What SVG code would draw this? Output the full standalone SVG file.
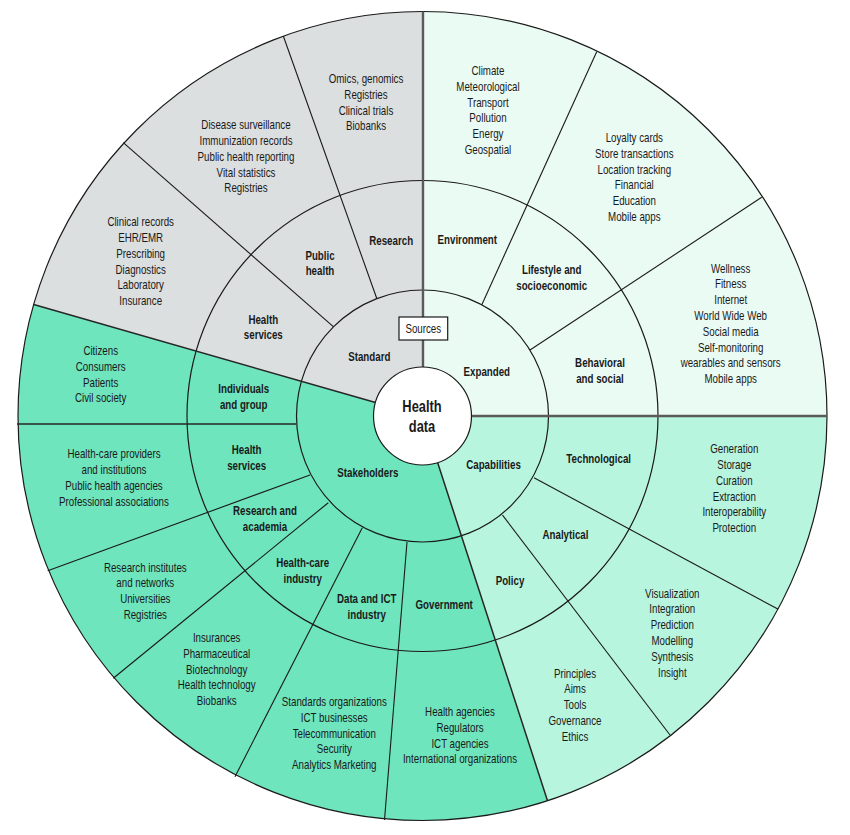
<svg xmlns="http://www.w3.org/2000/svg" width="850" height="835" viewBox="0 0 850 835">
<style>
text{font-family:'Liberation Sans',Arial,sans-serif;font-size:12.5px;fill:#1a1a1a;text-anchor:middle}
.b{font-weight:bold}
.c{font-size:16.5px;font-weight:bold}
.ring{fill:none;stroke:#1a1a1a;stroke-width:1.2}
.div{stroke:#1a1a1a;stroke-width:1.1;fill:none}
.main{stroke:#5a5a5a;stroke-width:2.4;fill:none}
.top{stroke:#262626;stroke-width:1.5;fill:none}
</style>
<rect width="850" height="835" fill="#ffffff"/>
<g id="wedges">
<path id="w-standard" d="M422.5 416 L33.7 304.5 A404.5 404.5 0 0 1 422.5 11.5 Z" fill="#dcdfdf"/>
<path id="w-expanded" d="M422.5 416 L422.5 11.5 A404.5 404.5 0 0 1 827 416 Z" fill="#eafbf4"/>
<path id="w-capabilities" d="M422.5 416 L827 416 A404.5 404.5 0 0 1 547.5 800.7 Z" fill="#b8f5de"/>
<path id="w-stakeholders" d="M422.5 416 L547.5 800.7 A404.5 404.5 0 0 1 33.7 304.5 Z" fill="#6ee5bd"/>
</g>
<g id="connectors">
<circle class="ring" cx="422.5" cy="416" r="404.5"/>
<circle class="ring" cx="422.5" cy="416" r="235.5"/>
<circle class="ring" cx="422.5" cy="416" r="126"/>
<line class="div" x1="333.3" y1="326.7" x2="123.3" y2="142.7"/>
<line class="div" x1="376.7" y1="298.3" x2="283.3" y2="36"/>
<line class="div" x1="481.7" y1="305" x2="596.7" y2="51.7"/>
<line class="div" x1="530" y1="350" x2="761.7" y2="197.3"/>
<line class="div" x1="534" y1="477.7" x2="778.3" y2="609.3"/>
<line class="div" x1="502.5" y1="515.1" x2="670" y2="735"/>
<line class="div" x1="407" y1="542" x2="384.5" y2="820"/>
<line class="div" x1="362.3" y1="527.7" x2="235" y2="776.7"/>
<line class="div" x1="328.3" y1="502.7" x2="113.3" y2="678.3"/>
<line class="div" x1="310" y1="475" x2="47.7" y2="570.7"/>
<line class="top" x1="296" y1="424" x2="17" y2="424"/>
<line class="top" x1="375.5" y1="402.5" x2="33.7" y2="304.5"/>
<line class="top" x1="437.6" y1="462.6" x2="547.5" y2="800.7"/>
<line class="main" x1="423" y1="367" x2="423" y2="11.5"/>
<line class="main" x1="471.5" y1="416" x2="827" y2="416"/>
</g>
<g id="center">
<circle cx="422.5" cy="416" r="49" fill="#ffffff" stroke="#1a1a1a" stroke-width="1.2"/>
<g transform="matrix(0.78 0 0 1 92.84 0)"><text class="c" x="422" y="412.5">Health</text>
<text class="c" x="422" y="432">data</text></g>
</g>
<g id="sources">
<rect x="399" y="317" width="48.7" height="23" fill="#ffffff" stroke="#1a1a1a" stroke-width="1.2"/>
<text transform="matrix(0.78 0 0 1 93.13 0)" x="423.3" y="333">Sources</text>
</g>
<g id="standard" transform="matrix(0.78 0 0 1 81.25 0)"><text class="b" x="369.3" y="361">Standard</text></g>
<g id="expanded" transform="matrix(0.78 0 0 1 107.1 0)"><text class="b" x="486.8" y="376">Expanded</text></g>
<g id="capabilities" transform="matrix(0.78 0 0 1 108.57 0)"><text class="b" x="493.5" y="469.3">Capabilities</text></g>
<g id="stakeholders" transform="matrix(0.78 0 0 1 80.92 0)"><text class="b" x="367.8" y="477">Stakeholders</text></g>

<g id="research" transform="matrix(0.78 0 0 1 86.06 0)"><text class="b" x="391.2" y="245">Research</text></g>
<g id="public-health" transform="matrix(0.78 0 0 1 70.4 0)"><text class="b" x="320" y="260">Public</text><text class="b" x="320" y="275">health</text></g>
<g id="health-services-std" transform="matrix(0.78 0 0 1 57.93 0)"><text class="b" x="263.3" y="323.6">Health</text><text class="b" x="263.3" y="339.3">services</text></g>
<g id="environment" transform="matrix(0.78 0 0 1 102.81 0)"><text class="b" x="467.3" y="244.3">Environment</text></g>
<g id="lifestyle" transform="matrix(0.78 0 0 1 121.37 0)"><text class="b" x="551.7" y="273.6">Lifestyle and</text><text class="b" x="551.7" y="290">socioeconomic</text></g>
<g id="behavioral" transform="matrix(0.78 0 0 1 132 0)"><text class="b" x="600" y="366.6">Behavioral</text><text class="b" x="600" y="382.6">and social</text></g>
<g id="technological" transform="matrix(0.78 0 0 1 131.71 0)"><text class="b" x="598.7" y="463.3">Technological</text></g>
<g id="analytical" transform="matrix(0.78 0 0 1 124.41 0)"><text class="b" x="565.5" y="539.3">Analytical</text></g>
<g id="policy" transform="matrix(0.78 0 0 1 112.2 0)"><text class="b" x="510" y="585">Policy</text></g>
<g id="government" transform="matrix(0.78 0 0 1 97.72 0)"><text class="b" x="444.2" y="609">Government</text></g>
<g id="data-ict" transform="matrix(0.78 0 0 1 80.67 0)"><text class="b" x="366.7" y="603.3">Data and ICT</text><text class="b" x="366.7" y="619.3">industry</text></g>
<g id="health-care-industry" transform="matrix(0.78 0 0 1 66.59 0)"><text class="b" x="302.7" y="567">Health-care</text><text class="b" x="302.7" y="582.6">industry</text></g>
<g id="research-academia" transform="matrix(0.78 0 0 1 58.3 0)"><text class="b" x="265" y="515.3">Research and</text><text class="b" x="265" y="531">academia</text></g>
<g id="health-services-stk" transform="matrix(0.78 0 0 1 54.27 0)"><text class="b" x="246.7" y="454.3">Health</text><text class="b" x="246.7" y="470">services</text></g>
<g id="individuals" transform="matrix(0.78 0 0 1 53.61 0)"><text class="b" x="243.7" y="393.3">Individuals</text><text class="b" x="243.7" y="409.3">and group</text></g>

<g id="research-items" transform="matrix(0.78 0 0 1 80.52 0)"><text x="366" y="83"><tspan x="366">Omics, genomics</tspan><tspan x="366" dy="15.8">Registries</tspan><tspan x="366" dy="15.8">Clinical trials</tspan><tspan x="366" dy="15.8">Biobanks</tspan></text></g>
<g id="public-health-items" transform="matrix(0.78 0 0 1 54.12 0)"><text x="246" y="129.3"><tspan x="246">Disease surveillance</tspan><tspan x="246" dy="15.8">Immunization records</tspan><tspan x="246" dy="15.8">Public health reporting</tspan><tspan x="246" dy="15.8">Vital statistics</tspan><tspan x="246" dy="15.8">Registries</tspan></text></g>
<g id="health-services-std-items" transform="matrix(0.78 0 0 1 30.95 0)"><text x="140.7" y="226.3"><tspan x="140.7">Clinical records</tspan><tspan x="140.7" dy="15.8">EHR/EMR</tspan><tspan x="140.7" dy="15.8">Prescribing</tspan><tspan x="140.7" dy="15.8">Diagnostics</tspan><tspan x="140.7" dy="15.8">Laboratory</tspan><tspan x="140.7" dy="15.8">Insurance</tspan></text></g>
<g id="environment-items" transform="matrix(0.78 0 0 1 107.36 0)"><text x="488" y="75"><tspan x="488">Climate</tspan><tspan x="488" dy="15.8">Meteorological</tspan><tspan x="488" dy="15.8">Transport</tspan><tspan x="488" dy="15.8">Pollution</tspan><tspan x="488" dy="15.8">Energy</tspan><tspan x="488" dy="15.8">Geospatial</tspan></text></g>
<g id="lifestyle-items" transform="matrix(0.78 0 0 1 139.55 0)"><text x="634.3" y="142"><tspan x="634.3">Loyalty cards</tspan><tspan x="634.3" dy="15.8">Store transactions</tspan><tspan x="634.3" dy="15.8">Location tracking</tspan><tspan x="634.3" dy="15.8">Financial</tspan><tspan x="634.3" dy="15.8">Education</tspan><tspan x="634.3" dy="15.8">Mobile apps</tspan></text></g>
<g id="behavioral-items" transform="matrix(0.78 0 0 1 160.75 0)"><text x="730.7" y="272.6"><tspan x="730.7">Wellness</tspan><tspan x="730.7" dy="15.8">Fitness</tspan><tspan x="730.7" dy="15.8">Internet</tspan><tspan x="730.7" dy="15.8">World Wide Web</tspan><tspan x="730.7" dy="15.8">Social media</tspan><tspan x="730.7" dy="15.8">Self-monitoring</tspan><tspan x="730.7" dy="15.8">wearables and sensors</tspan><tspan x="730.7" dy="15.8">Mobile apps</tspan></text></g>
<g id="technological-items" transform="matrix(0.78 0 0 1 161.55 0)"><text x="734.3" y="453.3"><tspan x="734.3">Generation</tspan><tspan x="734.3" dy="15.8">Storage</tspan><tspan x="734.3" dy="15.8">Curation</tspan><tspan x="734.3" dy="15.8">Extraction</tspan><tspan x="734.3" dy="15.8">Interoperability</tspan><tspan x="734.3" dy="15.8">Protection</tspan></text></g>
<g id="analytical-items" transform="matrix(0.78 0 0 1 147.91 0)"><text x="672.3" y="597.6"><tspan x="672.3">Visualization</tspan><tspan x="672.3" dy="15.8">Integration</tspan><tspan x="672.3" dy="15.8">Prediction</tspan><tspan x="672.3" dy="15.8">Modelling</tspan><tspan x="672.3" dy="15.8">Synthesis</tspan><tspan x="672.3" dy="15.8">Insight</tspan></text></g>
<g id="policy-items" transform="matrix(0.78 0 0 1 126.5 0)"><text x="575" y="677.6"><tspan x="575">Principles</tspan><tspan x="575" dy="15.8">Aims</tspan><tspan x="575" dy="15.8">Tools</tspan><tspan x="575" dy="15.8">Governance</tspan><tspan x="575" dy="15.8">Ethics</tspan></text></g>
<g id="government-items" transform="matrix(0.78 0 0 1 101.2 0)"><text x="460" y="716"><tspan x="460">Health agencies</tspan><tspan x="460" dy="15.8">Regulators</tspan><tspan x="460" dy="15.8">ICT agencies</tspan><tspan x="460" dy="15.8">International organizations</tspan></text></g>
<g id="data-ict-items" transform="matrix(0.78 0 0 1 73.55 0)"><text x="334.3" y="706"><tspan x="334.3">Standards organizations</tspan><tspan x="334.3" dy="15.8">ICT businesses</tspan><tspan x="334.3" dy="15.8">Telecommunication</tspan><tspan x="334.3" dy="15.8">Security</tspan><tspan x="334.3" dy="15.8">Analytics Marketing</tspan></text></g>
<g id="health-care-industry-items" transform="matrix(0.78 0 0 1 47.67 0)"><text x="216.7" y="642"><tspan x="216.7">Insurances</tspan><tspan x="216.7" dy="15.8">Pharmaceutical</tspan><tspan x="216.7" dy="15.8">Biotechnology</tspan><tspan x="216.7" dy="15.8">Health technology</tspan><tspan x="216.7" dy="15.8">Biobanks</tspan></text></g>
<g id="research-academia-items" transform="matrix(0.78 0 0 1 31.97 0)"><text x="145.3" y="571.6"><tspan x="145.3">Research institutes</tspan><tspan x="145.3" dy="15.8">and networks</tspan><tspan x="145.3" dy="15.8">Universities</tspan><tspan x="145.3" dy="15.8">Registries</tspan></text></g>
<g id="health-services-stk-items" transform="matrix(0.78 0 0 1 25.08 0)"><text x="114" y="458.3"><tspan x="114">Health-care providers</tspan><tspan x="114" dy="15.8">and institutions</tspan><tspan x="114" dy="15.8">Public health agencies</tspan><tspan x="114" dy="15.8">Professional associations</tspan></text></g>
<g id="individuals-items" transform="matrix(0.78 0 0 1 22.15 0)"><text x="100.7" y="355"><tspan x="100.7">Citizens</tspan><tspan x="100.7" dy="15.8">Consumers</tspan><tspan x="100.7" dy="15.8">Patients</tspan><tspan x="100.7" dy="15.8">Civil society</tspan></text></g>
</svg>
